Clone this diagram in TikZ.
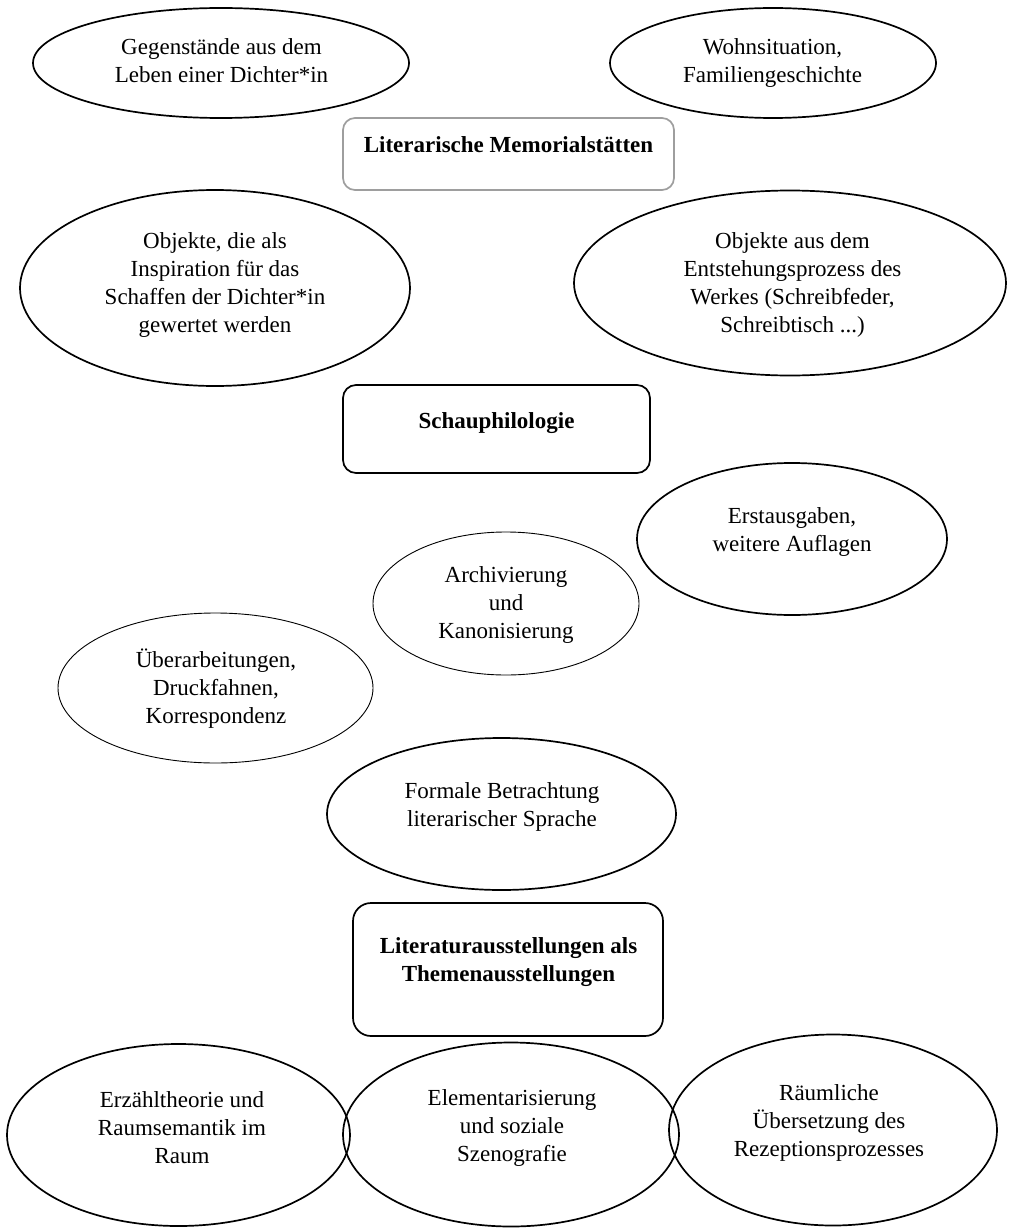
\documentclass[tikz,border=0pt]{standalone}
\usepackage{fontspec}
\setmainfont{Liberation Serif}
\usetikzlibrary{shapes.geometric}
\begin{document}
\begin{tikzpicture}[x=1pt,y=-1pt,
  oval/.style={ellipse, draw, line width=1.7pt, inner sep=0pt},
  thinoval/.style={ellipse, draw, line width=0.9pt, inner sep=0pt},
  hbox/.style={rectangle, draw, line width=1.7pt, inner sep=0pt},
  txt/.style={align=center, inner sep=0pt, font=\fontsize{23}{28}\selectfont},
  btxt/.style={align=center, inner sep=0pt, font=\fontsize{23}{28}\selectfont\bfseries}]
\useasboundingbox (0,0) rectangle (1009,1228);

% top row
\node[oval, minimum width=376, minimum height=110] (e1) at (221,63) {};
\node[txt] (t1) at (221.5,63.4) {\strut Gegenstände aus dem\\\strut Leben einer Dichter*in};
\node[oval, minimum width=326, minimum height=110] (e2) at (773,63) {};
\node[txt] (t2) at (772.5,63.4) {\strut Wohnsituation,\\\strut Familiengeschichte};

% Literarische Memorialstätten
\node[hbox, draw=black!38, rounded corners=12pt, minimum width=331, minimum height=72] (b1) at (508.5,154) {};
\node[btxt] (tb1) at (508.5,147.4) {\strut Literarische Memorialstätten};

\node[oval, minimum width=390, minimum height=196] (e4) at (215,288) {};
\node[txt] (t4) at (215,285) {\strut Objekte, die als\\\strut Inspiration für das\\\strut Schaffen der Dichter*in\\\strut gewertet werden};
\node[oval, minimum width=432, minimum height=185] (e5) at (790,283) {};
\node[txt] (t5) at (792.5,285) {\strut Objekte aus dem\\\strut Entstehungsprozess des\\\strut Werkes (Schreibfeder,\\\strut Schreibtisch ...)};

% Schauphilologie
\node[hbox, rounded corners=13pt, minimum width=307, minimum height=88] (b2) at (496.5,429) {};
\node[btxt] (tb2) at (496.5,422.4) {\strut Schauphilologie};

\node[oval, minimum width=310, minimum height=152] (e7) at (792,539) {};
\node[txt] (t7) at (792,532) {\strut Erstausgaben,\\\strut weitere Auflagen};
\node[thinoval, minimum width=266, minimum height=143] (e8) at (506,603.5) {};
\node[txt] (t8) at (506,604.4) {\strut Archivierung\\\strut und\\\strut Kanonisierung};
\node[thinoval, minimum width=315, minimum height=150] (e9) at (215.5,688) {};
\node[txt] (t9) at (216,689.4) {\strut Überarbeitungen,\\\strut Druckfahnen,\\\strut Korrespondenz};
\node[oval, minimum width=349, minimum height=152] (e10) at (501.5,814) {};
\node[txt] (t10) at (502,807) {\strut Formale Betrachtung\\\strut literarischer Sprache};

% Literaturausstellungen
\node[hbox, rounded corners=18pt, minimum width=310, minimum height=133] (b3) at (508,969.5) {};
\node[btxt] (tb3) at (508.5,962) {\strut Literaturausstellungen als\\\strut Themenausstellungen};

% bottom row
\node[oval, minimum width=343, minimum height=182] (e12) at (178.5,1135) {};
\node[txt] (t12) at (182,1129.4) {\strut Erzähltheorie und\\\strut Raumsemantik im\\\strut Raum};
\node[oval, minimum width=336, minimum height=184] (e13) at (511,1134.5) {};
\node[txt] (t13) at (512,1128) {\strut Elementarisierung\\\strut und soziale\\\strut Szenografie};
\node[oval, minimum width=328, minimum height=191] (e14) at (833,1130) {};
\node[txt] (t14) at (829,1123) {\strut Räumliche\\\strut Übersetzung des\\\strut Rezeptionsprozesses};
\end{tikzpicture}
\end{document}
